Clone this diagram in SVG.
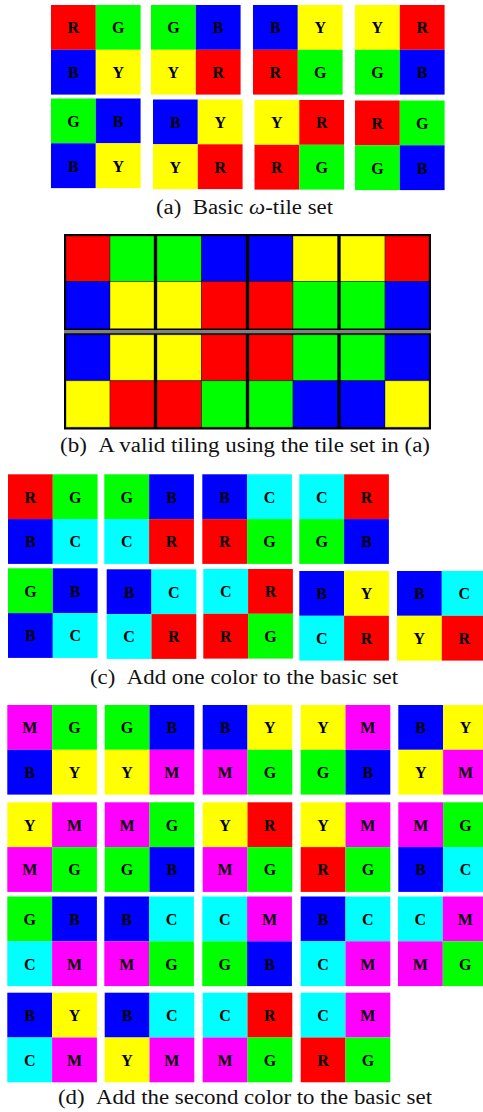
<svg xmlns="http://www.w3.org/2000/svg" xmlns:xlink="http://www.w3.org/1999/xlink" width="483" height="1112" viewBox="0 0 483 1112">
<style>
.R{fill:#ff0000}.G{fill:#00ff00}.B{fill:#0000ff}.Y{fill:#ffff00}.C{fill:#00ffff}.M{fill:#ff00ff}
.l{font-family:"Liberation Serif","Times New Roman",serif;font-weight:bold;font-size:16px;text-anchor:middle;fill:#000}
.cap{font-family:"Liberation Serif","Times New Roman",serif;font-size:20px;fill:#111}
.bc{stroke:#000;stroke-opacity:0.35;stroke-width:1}
</style>
<defs>
<g id="cR"><rect class="R" width="44.8" height="44.8"/><text class="l" x="22.4" y="28.4">R</text></g>
<g id="cG"><rect class="G" width="44.8" height="44.8"/><text class="l" x="22.4" y="28.4">G</text></g>
<g id="cB"><rect class="B" width="44.8" height="44.8"/><text class="l" x="22.4" y="28.4">B</text></g>
<g id="cY"><rect class="Y" width="44.8" height="44.8"/><text class="l" x="22.4" y="28.4">Y</text></g>
<g id="cC"><rect class="C" width="44.8" height="44.8"/><text class="l" x="22.4" y="28.4">C</text></g>
<g id="cM"><rect class="M" width="44.8" height="44.8"/><text class="l" x="22.4" y="28.4">M</text></g>
</defs>
<rect width="483" height="1112" fill="#fff"/>

<!-- (a) basic tile set -->
<g id="tilesA">
<g id="a1" transform="translate(51,5)"><use href="#cR"/><use href="#cG" x="44.8"/><use href="#cB" y="44.8"/><use href="#cY" x="44.8" y="44.8"/></g>
<g id="a2" transform="translate(151,5)"><use href="#cG"/><use href="#cB" x="44.8"/><use href="#cY" y="44.8"/><use href="#cR" x="44.8" y="44.8"/></g>
<g id="a3" transform="translate(253,5)"><use href="#cB"/><use href="#cY" x="44.8"/><use href="#cR" y="44.8"/><use href="#cG" x="44.8" y="44.8"/></g>
<g id="a4" transform="translate(355,5)"><use href="#cY"/><use href="#cR" x="44.8"/><use href="#cG" y="44.8"/><use href="#cB" x="44.8" y="44.8"/></g>
<g id="a5" transform="translate(51,98.5)"><use href="#cG"/><use href="#cB" x="44.8"/><use href="#cB" y="44.8"/><use href="#cY" x="44.8" y="44.8"/></g>
<g id="a6" transform="translate(153,99.5)"><use href="#cB"/><use href="#cY" x="44.8"/><use href="#cY" y="44.8"/><use href="#cR" x="44.8" y="44.8"/></g>
<g id="a7" transform="translate(254.5,100)"><use href="#cY"/><use href="#cR" x="44.8"/><use href="#cR" y="44.8"/><use href="#cG" x="44.8" y="44.8"/></g>
<g id="a8" transform="translate(355,100.5)"><use href="#cR"/><use href="#cG" x="44.8"/><use href="#cG" y="44.8"/><use href="#cB" x="44.8" y="44.8"/></g>
</g>
<text id="capA" class="cap" x="156" y="214" textLength="177" lengthAdjust="spacingAndGlyphs">(a)&#160;&#160;Basic <tspan font-style="italic">ω</tspan>-tile set</text>

<!-- (b) valid tiling -->
<g id="tiling">
<rect x="64" y="234" width="367" height="195.5" fill="#000"/>
<g class="bc">
<rect class="R" x="66" y="236" width="44" height="45.5"/><rect class="G" x="110" y="236" width="44" height="45.5"/><rect class="G" x="157" y="236" width="44.5" height="45.5"/><rect class="B" x="201.5" y="236" width="44.5" height="45.5"/><rect class="B" x="249" y="236" width="44" height="45.5"/><rect class="Y" x="293" y="236" width="44.5" height="45.5"/><rect class="Y" x="340.5" y="236" width="44.5" height="45.5"/><rect class="R" x="385" y="236" width="44" height="45.5"/>
<rect class="B" x="66" y="281.5" width="44" height="47.2"/><rect class="Y" x="110" y="281.5" width="44" height="47.2"/><rect class="Y" x="157" y="281.5" width="44.5" height="47.2"/><rect class="R" x="201.5" y="281.5" width="44.5" height="47.2"/><rect class="R" x="249" y="281.5" width="44" height="47.2"/><rect class="G" x="293" y="281.5" width="44.5" height="47.2"/><rect class="G" x="340.5" y="281.5" width="44.5" height="47.2"/><rect class="B" x="385" y="281.5" width="44" height="47.2"/>
<rect class="B" x="66" y="334.7" width="44" height="46"/><rect class="Y" x="110" y="334.7" width="44" height="46"/><rect class="Y" x="157" y="334.7" width="44.5" height="46"/><rect class="R" x="201.5" y="334.7" width="44.5" height="46"/><rect class="R" x="249" y="334.7" width="44" height="46"/><rect class="G" x="293" y="334.7" width="44.5" height="46"/><rect class="G" x="340.5" y="334.7" width="44.5" height="46"/><rect class="B" x="385" y="334.7" width="44" height="46"/>
<rect class="Y" x="66" y="380.7" width="44" height="46.6"/><rect class="R" x="110" y="380.7" width="44" height="46.6"/><rect class="R" x="157" y="380.7" width="44.5" height="46.6"/><rect class="G" x="201.5" y="380.7" width="44.5" height="46.6"/><rect class="G" x="249" y="380.7" width="44" height="46.6"/><rect class="B" x="293" y="380.7" width="44.5" height="46.6"/><rect class="B" x="340.5" y="380.7" width="44.5" height="46.6"/><rect class="Y" x="385" y="380.7" width="44" height="46.6"/>
</g>
<rect x="64" y="330" width="367" height="3.3" fill="#808080"/>
</g>
<text id="capB" class="cap" x="60" y="452" textLength="370" lengthAdjust="spacingAndGlyphs">(b)&#160;&#160;A valid tiling using the tile set in (a)</text>

<!-- (c) one added color -->
<g id="tilesC">
<g id="c1" transform="translate(8,474.3)"><use href="#cR"/><use href="#cG" x="44.8"/><use href="#cB" y="44.8"/><use href="#cC" x="44.8" y="44.8"/></g>
<g id="c2" transform="translate(104.3,474.3)"><use href="#cG"/><use href="#cB" x="44.8"/><use href="#cC" y="44.8"/><use href="#cR" x="44.8" y="44.8"/></g>
<g id="c3" transform="translate(202.3,474.3)"><use href="#cB"/><use href="#cC" x="44.8"/><use href="#cR" y="44.8"/><use href="#cG" x="44.8" y="44.8"/></g>
<g id="c4" transform="translate(299.3,474.3)"><use href="#cC"/><use href="#cR" x="44.8"/><use href="#cG" y="44.8"/><use href="#cB" x="44.8" y="44.8"/></g>
<g id="c5" transform="translate(8,568.3)"><use href="#cG"/><use href="#cB" x="44.8"/><use href="#cB" y="44.8"/><use href="#cC" x="44.8" y="44.8"/></g>
<g id="c6" transform="translate(106.7,569.3)"><use href="#cB"/><use href="#cC" x="44.8"/><use href="#cC" y="44.8"/><use href="#cR" x="44.8" y="44.8"/></g>
<g id="c7" transform="translate(203.3,569)"><use href="#cC"/><use href="#cR" x="44.8"/><use href="#cR" y="44.8"/><use href="#cG" x="44.8" y="44.8"/></g>
<g id="c8" transform="translate(299.3,571)"><use href="#cB"/><use href="#cY" x="44.8"/><use href="#cC" y="44.8"/><use href="#cR" x="44.8" y="44.8"/></g>
<g id="c9" transform="translate(397,571)"><use href="#cB"/><use href="#cC" x="44.8"/><use href="#cY" y="44.8"/><use href="#cR" x="44.8" y="44.8"/></g>
</g>
<text id="capC" class="cap" x="90" y="684" textLength="308" lengthAdjust="spacingAndGlyphs">(c)&#160;&#160;Add one color to the basic set</text>

<!-- (d) second added color -->
<g id="tilesD">
<g id="d1" transform="translate(7.3,705)"><use href="#cM"/><use href="#cG" x="44.8"/><use href="#cB" y="44.8"/><use href="#cY" x="44.8" y="44.8"/></g>
<g id="d2" transform="translate(104.7,705)"><use href="#cG"/><use href="#cB" x="44.8"/><use href="#cY" y="44.8"/><use href="#cM" x="44.8" y="44.8"/></g>
<g id="d3" transform="translate(202.7,705)"><use href="#cB"/><use href="#cY" x="44.8"/><use href="#cM" y="44.8"/><use href="#cG" x="44.8" y="44.8"/></g>
<g id="d4" transform="translate(300.7,705)"><use href="#cY"/><use href="#cM" x="44.8"/><use href="#cG" y="44.8"/><use href="#cB" x="44.8" y="44.8"/></g>
<g id="d5" transform="translate(398.3,705)"><use href="#cB"/><use href="#cY" x="44.8"/><use href="#cY" y="44.8"/><use href="#cM" x="44.8" y="44.8"/></g>
<g id="d6" transform="translate(7.3,802.3)"><use href="#cY"/><use href="#cM" x="44.8"/><use href="#cM" y="44.8"/><use href="#cG" x="44.8" y="44.8"/></g>
<g id="d7" transform="translate(104.7,802.3)"><use href="#cM"/><use href="#cG" x="44.8"/><use href="#cG" y="44.8"/><use href="#cB" x="44.8" y="44.8"/></g>
<g id="d8" transform="translate(202.7,802.3)"><use href="#cY"/><use href="#cR" x="44.8"/><use href="#cM" y="44.8"/><use href="#cG" x="44.8" y="44.8"/></g>
<g id="d9" transform="translate(300.7,802.3)"><use href="#cY"/><use href="#cM" x="44.8"/><use href="#cR" y="44.8"/><use href="#cG" x="44.8" y="44.8"/></g>
<g id="d10" transform="translate(398.3,802.3)"><use href="#cM"/><use href="#cG" x="44.8"/><use href="#cB" y="44.8"/><use href="#cC" x="44.8" y="44.8"/></g>
<g id="d11" transform="translate(7.3,896.5)"><use href="#cG"/><use href="#cB" x="44.8"/><use href="#cC" y="44.8"/><use href="#cM" x="44.8" y="44.8"/></g>
<g id="d12" transform="translate(104.3,896.5)"><use href="#cB"/><use href="#cC" x="44.8"/><use href="#cM" y="44.8"/><use href="#cG" x="44.8" y="44.8"/></g>
<g id="d13" transform="translate(202.3,896.5)"><use href="#cC"/><use href="#cM" x="44.8"/><use href="#cG" y="44.8"/><use href="#cB" x="44.8" y="44.8"/></g>
<g id="d14" transform="translate(300.7,896.5)"><use href="#cB"/><use href="#cC" x="44.8"/><use href="#cC" y="44.8"/><use href="#cM" x="44.8" y="44.8"/></g>
<g id="d15" transform="translate(398,896.5)"><use href="#cC"/><use href="#cM" x="44.8"/><use href="#cM" y="44.8"/><use href="#cG" x="44.8" y="44.8"/></g>
<g id="d16" transform="translate(7.3,992.7)"><use href="#cB"/><use href="#cY" x="44.8"/><use href="#cC" y="44.8"/><use href="#cM" x="44.8" y="44.8"/></g>
<g id="d17" transform="translate(104.7,992.7)"><use href="#cB"/><use href="#cC" x="44.8"/><use href="#cY" y="44.8"/><use href="#cM" x="44.8" y="44.8"/></g>
<g id="d18" transform="translate(202.7,992.7)"><use href="#cC"/><use href="#cR" x="44.8"/><use href="#cM" y="44.8"/><use href="#cG" x="44.8" y="44.8"/></g>
<g id="d19" transform="translate(300.7,992.7)"><use href="#cC"/><use href="#cM" x="44.8"/><use href="#cR" y="44.8"/><use href="#cG" x="44.8" y="44.8"/></g>
</g>
<text id="capD" class="cap" x="58" y="1104" textLength="374" lengthAdjust="spacingAndGlyphs">(d)&#160;&#160;Add the second color to the basic set</text>
</svg>
